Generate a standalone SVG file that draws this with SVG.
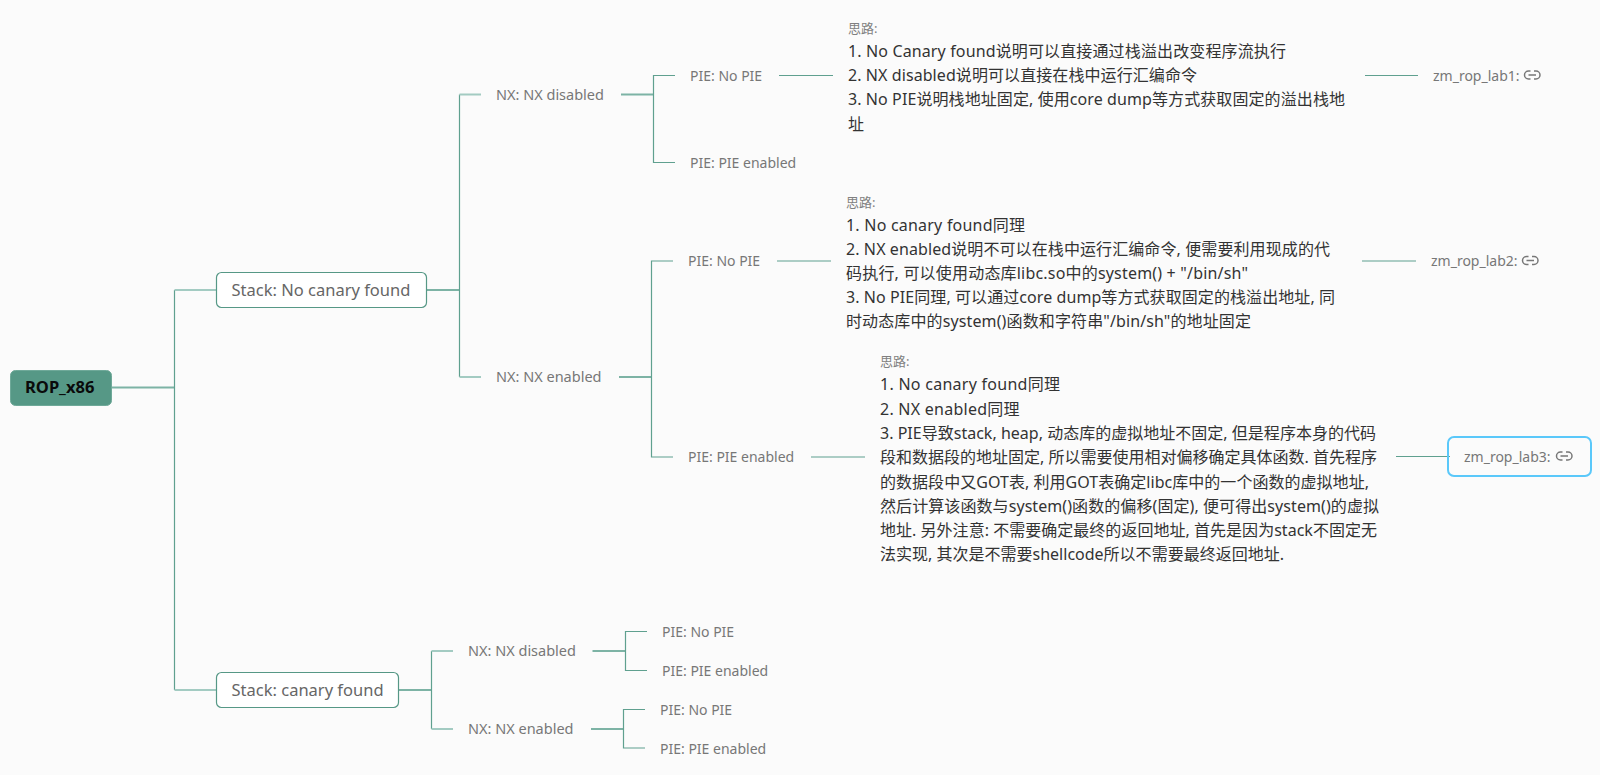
<svg xmlns="http://www.w3.org/2000/svg" width="1600" height="775" viewBox="0 0 1600 775">
<style>
text{font-family:"Noto Sans","Noto Sans CJK SC",sans-serif}
.bg{fill:#fbfbfb}
.root{fill:#569886;stroke:#6fa999;stroke-width:1}
.box{fill:#fff;stroke:#569886;stroke-width:1.2}
.sel{fill:none;stroke:#5ac8fa;stroke-width:2}
.rt{font-size:16.5px;font-weight:700;fill:#0a0a0a}
.st{font-size:16.5px;fill:#666}
.lb{font-size:14px;fill:#777}
.nx{font-size:14.5px;fill:#777}
.nt{font-size:13px;fill:#808080}
.bd{font-size:16px;fill:#333}
.c{fill:none;stroke:#5fa08f;stroke-width:1.2}
.t{fill:none;stroke:#7db3a5;stroke-width:2}
.s{fill:none;stroke:#a3cbc2;stroke-width:2}
.ic{fill:none;stroke:#777;stroke-width:1.5}
</style>
<defs>
<g id="link"><path class="ic" d="M6.5 -4H4.5A4 4 0 0 0 4.5 4H6.5M10 -4H12A4 4 0 0 1 12 4H10M4.5 0H12"/></g>
</defs>
<rect class="bg" width="1600" height="775"/>
<g id="connectors">
<path class="t" d="M112 387.5H174"/>
<path class="c" d="M174.5 290V690"/>
<path class="s" d="M174.5 290H216M174.5 690H216"/>
<path class="t" d="M427 290H459"/>
<path class="c" d="M459.5 94.5V377"/>
<path class="s" d="M459.5 94.5H481M459.5 377H481"/>
<path class="t" d="M621 94.5H653M619 377H651"/>
<path class="c" d="M675 75.5H653.5V162.5H675M779 75.5H833M1365 75.5H1418"/>
<path class="c" d="M673 261H651.5V457H673M777 261H831M1362 261H1416M811 457H865M1396 456.5H1450"/>
<path class="t" d="M399 690H431"/>
<path class="c" d="M431.5 651V729"/>
<path class="s" d="M431.5 651H453M431.5 729H453"/>
<path class="t" d="M592.5 651H625M591 729H623"/>
<path class="c" d="M647 631.5H625.5V670.5H647M645 709.5H623.5V748H645"/>
</g>
<g id="root"><rect class="root" x="10.5" y="370.5" width="101" height="35" rx="5"/><text class="rt" x="25" y="393">ROP_x86</text></g>
<g id="stack-no-canary"><rect class="box" x="216.5" y="272.5" width="210" height="35" rx="5"/><text class="st" x="231.5" y="296">Stack: No canary found</text></g>
<g id="stack-canary"><rect class="box" x="216.5" y="672.5" width="182" height="35" rx="5"/><text class="st" x="231.5" y="696">Stack: canary found</text></g>
<g id="nx1"><text class="nx" x="496" y="99.5">NX: NX disabled</text></g>
<g id="nx2"><text class="nx" x="496" y="382">NX: NX enabled</text></g>
<g id="pie1"><text class="lb" x="690" y="80.5">PIE: No PIE</text></g>
<g id="pie2"><text class="lb" x="690" y="167.5">PIE: PIE enabled</text></g>
<g id="pie3"><text class="lb" x="688" y="266">PIE: No PIE</text></g>
<g id="pie4"><text class="lb" x="688" y="462">PIE: PIE enabled</text></g>
<g id="note1">
<text class="nt" x="848" y="33">思路:</text>
<text class="bd" x="848" y="57" textLength="438">1. No Canary found说明可以直接通过栈溢出改变程序流执行</text>
<text class="bd" x="848" y="81" textLength="349">2. NX disabled说明可以直接在栈中运行汇编命令</text>
<text class="bd" x="848" y="105" textLength="497">3. No PIE说明栈地址固定, 使用core dump等方式获取固定的溢出栈地</text>
<text class="bd" x="848" y="130">址</text>
</g>
<g id="note2">
<text class="nt" x="846" y="207">思路:</text>
<text class="bd" x="846" y="231" textLength="179">1. No canary found同理</text>
<text class="bd" x="846" y="255" textLength="484">2. NX enabled说明不可以在栈中运行汇编命令, 便需要利用现成的代</text>
<text class="bd" x="846" y="279" textLength="402">码执行, 可以使用动态库libc.so中的system() + "/bin/sh"</text>
<text class="bd" x="846" y="303" textLength="489">3. No PIE同理, 可以通过core dump等方式获取固定的栈溢出地址, 同</text>
<text class="bd" x="846" y="327" textLength="405">时动态库中的system()函数和字符串"/bin/sh"的地址固定</text>
</g>
<g id="note3">
<text class="nt" x="880" y="366">思路:</text>
<text class="bd" x="880" y="390" textLength="180">1. No canary found同理</text>
<text class="bd" x="880" y="415" textLength="139.5">2. NX enabled同理</text>
<text class="bd" x="880" y="439" textLength="496">3. PIE导致stack, heap, 动态库的虚拟地址不固定, 但是程序本身的代码</text>
<text class="bd" x="880" y="463" textLength="497">段和数据段的地址固定, 所以需要使用相对偏移确定具体函数. 首先程序</text>
<text class="bd" x="880" y="488" textLength="489">的数据段中又GOT表, 利用GOT表确定libc库中的一个函数的虚拟地址,</text>
<text class="bd" x="880" y="512" textLength="499">然后计算该函数与system()函数的偏移(固定), 便可得出system()的虚拟</text>
<text class="bd" x="880" y="536" textLength="497">地址. 另外注意: 不需要确定最终的返回地址, 首先是因为stack不固定无</text>
<text class="bd" x="880" y="560" textLength="404">法实现, 其次是不需要shellcode所以不需要最终返回地址.</text>
</g>
<g id="lab1"><text class="lb" x="1433" y="80.5">zm_rop_lab1:</text><use href="#link" x="1524" y="75"/></g>
<g id="lab2"><text class="lb" x="1431" y="266">zm_rop_lab2:</text><use href="#link" x="1522" y="260.5"/></g>
<g id="lab3"><rect class="sel" x="1448" y="437" width="143" height="39" rx="6"/><text class="lb" x="1464" y="461.5">zm_rop_lab3:</text><use href="#link" x="1556" y="456"/></g>
<g id="c-nx1"><text class="nx" x="468" y="656">NX: NX disabled</text></g>
<g id="c-nx2"><text class="nx" x="468" y="734">NX: NX enabled</text></g>
<g id="c-pie1"><text class="lb" x="662" y="636.5">PIE: No PIE</text></g>
<g id="c-pie2"><text class="lb" x="662" y="675.5">PIE: PIE enabled</text></g>
<g id="c-pie3"><text class="lb" x="660" y="714.5">PIE: No PIE</text></g>
<g id="c-pie4"><text class="lb" x="660" y="753.5">PIE: PIE enabled</text></g>
</svg>
